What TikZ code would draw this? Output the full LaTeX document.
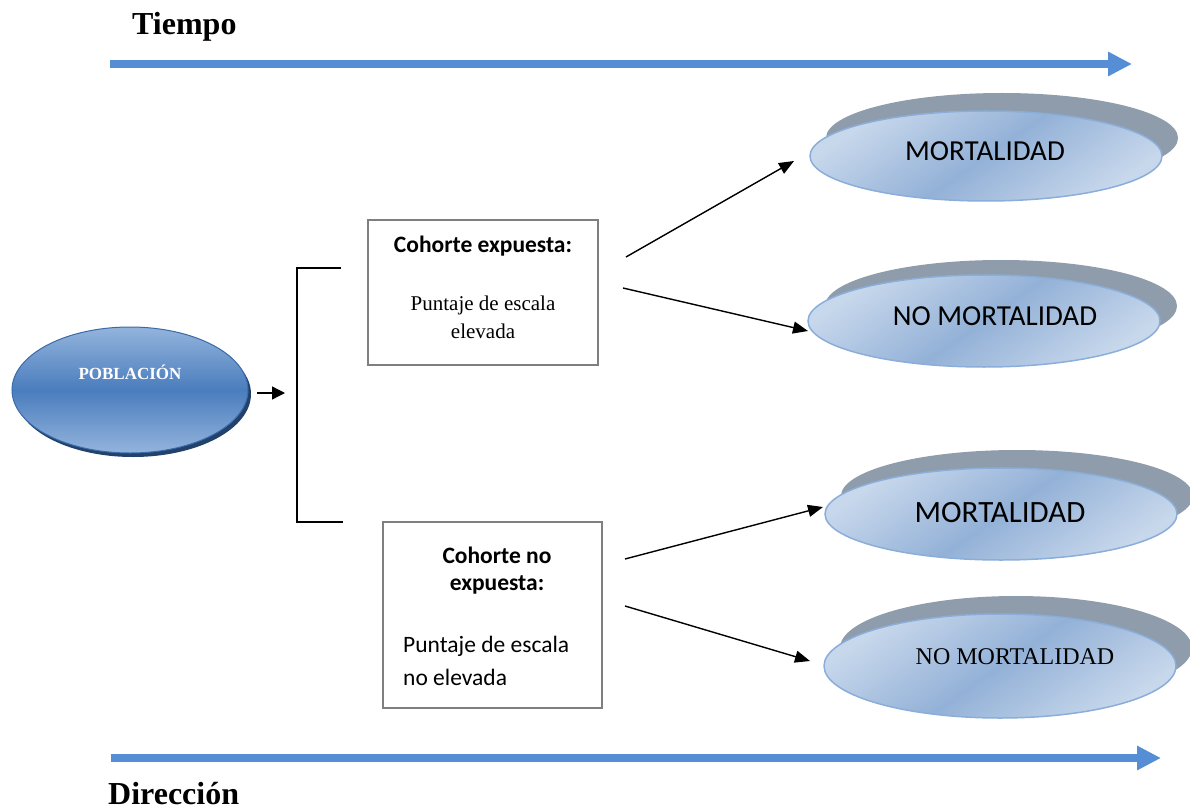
\documentclass[tikz,border=0pt]{standalone}
\usepackage{fontspec}
\setmainfont{Liberation Serif}
\newfontfamily\calib{Carlito}
\usetikzlibrary{arrows.meta,shapes.geometric}
\definecolor{timeblue}{HTML}{558ED5}
\definecolor{shadowgray}{HTML}{8F9CAB}
\definecolor{ovlight}{HTML}{C8D8EC}
\definecolor{ovdark}{HTML}{93B1D7}
\definecolor{ovborder}{HTML}{8AAED9}
\definecolor{poplight}{HTML}{93B4DD}
\definecolor{popdark}{HTML}{4A7DBD}
\definecolor{popborder}{HTML}{3A6AA8}
\definecolor{popshadow}{HTML}{22416B}
\definecolor{boxgray}{HTML}{7F7F7F}
\tikzset{
  bigarrow/.style={draw=timeblue, line width=8pt, -{Triangle[length=24pt,width=23pt]}},
  conn/.style={draw=black, line width=1.4pt, -{Triangle[length=15pt,width=12pt]}},
  ovshadow/.style={ellipse, fill=shadowgray, inner sep=0pt, minimum width=352pt},
  ovfront/.style={ellipse, draw=ovborder, line width=1.5pt, inner sep=0pt, minimum width=352pt,
     top color=ovlight, bottom color=ovlight, middle color=ovdark, shading angle=35},
  textbox/.style={draw=boxgray, line width=2pt, inner sep=0pt},
  title/.style={font=\bfseries\fontsize{32}{36}\selectfont, anchor=base west, inner sep=0pt},
  ovtext/.style={font=\calib\fontsize{29}{34}\selectfont, anchor=base, inner sep=0pt},
  boldcal/.style={font=\calib\bfseries\fontsize{23.5}{28}\selectfont, anchor=base, inner sep=0pt},
}
\begin{document}
\begin{tikzpicture}[x=1pt,y=-1pt]
\useasboundingbox (0,0) rectangle (1190,810);

% time arrows
\node[title] (tiempo) at (132,35) {Tiempo};
\coordinate (t1) at (110,64);
\coordinate (t2) at (1132,64);
\draw[bigarrow] (t1) -- (t2);
\coordinate (d1) at (111,758);
\coordinate (d2) at (1161,758);
\draw[bigarrow] (d1) -- (d2);
\node[title] (direccion) at (108,804) {Dirección};

% Poblacion
\node[ellipse, fill=popshadow, inner sep=0pt, minimum width=236pt, minimum height=126pt] (pobs) at (133,394) {};
\node[ellipse, draw=popborder, line width=1pt, inner sep=0pt, minimum width=236pt, minimum height=126pt,
  top color=poplight, bottom color=poplight, middle color=popdark] (pob) at (130,390) {};
\node[font=\bfseries\fontsize{17}{20}\selectfont, text=white, anchor=base, inner sep=0pt] (pobt) at (130,379) {POBLACIÓN};

% small arrow and bracket
\coordinate (s1) at (257,393);
\coordinate (s2) at (285,393);
\draw[line width=1.3pt, -{Triangle[length=13pt,width=13pt]}] (s1) -- (s2);
\coordinate (b1) at (341,268);
\coordinate (b2) at (297,268);
\coordinate (b3) at (297,522);
\coordinate (b4) at (343,522);
\draw[line width=2pt] (b1) -- (b2) -- (b3) -- (b4);

% box 1
\node[textbox, minimum width=230pt, minimum height=145pt] (box1) at (483,292.5) {};
\node[boldcal] (box1a) at (483,252) {Cohorte expuesta:};
\node[font=\fontsize{21}{25}\selectfont, anchor=base, inner sep=0pt] (box1b) at (483,310) {Puntaje de escala};
\node[font=\fontsize{21}{25}\selectfont, anchor=base, inner sep=0pt] (box1c) at (483,338) {elevada};

% box 2
\node[textbox, minimum width=219pt, minimum height=186pt] (box2) at (492.5,615) {};
\node[boldcal] (box2a) at (497,563) {Cohorte no};
\node[boldcal] (box2b) at (497,590) {expuesta:};
\node[font=\calib\fontsize{23.5}{28}\selectfont, anchor=base west, inner sep=0pt] (box2c) at (403,652) {Puntaje de escala};
\node[font=\calib\fontsize{23.5}{28}\selectfont, anchor=base west, inner sep=0pt] (box2d) at (403,685) {no elevada};

% outcome ellipses
\node[ovshadow, minimum height=90pt] (m1s) at (1002,138) {};
\node[ovfront, minimum height=90pt] (m1) at (986,156) {};
\node[ovtext] (m1t) at (985,161) {MORTALIDAD};

\node[ovshadow, minimum height=92pt] (n1s) at (1001,306) {};
\node[ovfront, minimum height=92pt] (n1) at (984,321) {};
\node[ovtext] (n1t) at (995,325) {NO MORTALIDAD};

\node[ovshadow, minimum height=92pt] (m2s) at (1017,496) {};
\node[ovfront, minimum height=92pt] (m2) at (1001,514) {};
\node[ovtext, font=\calib\fontsize{31}{36}\selectfont] (m2t) at (1000,522) {MORTALIDAD};

\node[ovshadow, minimum height=104pt] (n2s) at (1016,648) {};
\node[ovfront, minimum height=104pt] (n2) at (1000,666) {};
\node[ovtext, font=\fontsize{24}{28}\selectfont] (n2t) at (1015,664) {NO MORTALIDAD};

% connectors
\coordinate (a1s) at (626,257);
\coordinate (a1e) at (794,161);
\draw[conn] (a1s) -- (a1e);
\coordinate (a2s) at (623,288);
\coordinate (a2e) at (808,331);
\draw[conn] (a2s) -- (a2e);
\coordinate (a3s) at (625,559);
\coordinate (a3e) at (823,507);
\draw[conn] (a3s) -- (a3e);
\coordinate (a4s) at (625,606);
\coordinate (a4e) at (810,661);
\draw[conn] (a4s) -- (a4e);
\end{tikzpicture}
\end{document}
